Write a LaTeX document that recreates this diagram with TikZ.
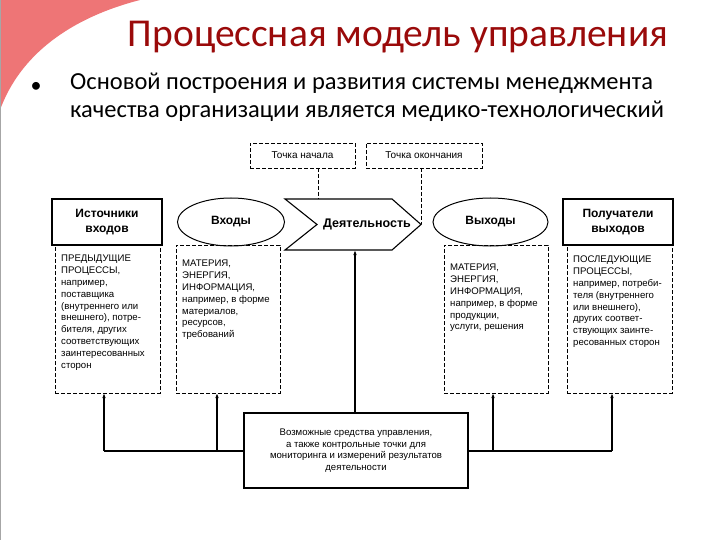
\documentclass[tikz,border=0pt]{standalone}
\usepackage{fontspec}
\setmainfont{Liberation Sans}
\newfontfamily\slidefont{Carlito}
\usetikzlibrary{shapes.geometric,arrows.meta}
\definecolor{pinkc}{HTML}{EE7576}
\definecolor{titlec}{HTML}{9A0A0A}
\begin{document}
\begin{tikzpicture}[x=1pt,y=-1pt,
  hdr/.style={draw,line width=1.4pt,minimum width=110pt,minimum height=46pt,font=\bfseries\fontsize{12}{14.5}\selectfont,align=center,inner sep=1pt},
  oval/.style={draw,line width=1pt,ellipse,minimum width=107pt,minimum height=48pt,font=\bfseries\fontsize{12}{14}\selectfont},
  dbox/.style={draw,dashed,line width=0.7pt,dash pattern=on 4pt off 2pt},
  small/.style={font=\fontsize{9.6}{11.8}\selectfont,align=left,anchor=north west,inner sep=0pt},
  topbox/.style={dbox,minimum width=105pt,minimum height=25pt,font=\fontsize{10}{12}\selectfont},
  ln/.style={line width=1.1pt},
  arr/.style={ln,-{Latex[length=5pt,width=3.5pt]}}]
\useasboundingbox (0,0) rectangle (720,540);
\fill[white] (0,0) rectangle (720,540);
\fill[pinkc] (0,0) -- (140,0) .. controls (70,18) and (20,55) .. (0,110) -- cycle;
\draw[gray!70,line width=0.6pt] (0.3,0) -- (0.3,540);
\node[font=\slidefont\fontsize{39.5}{44}\selectfont,text=titlec] (title) at (398,37) {Процессная модель управления};
\node[font=\slidefont\fontsize{22}{24}\selectfont] (bul) at (36,87) {•};
\node[font=\slidefont\fontsize{24.5}{28}\selectfont,align=left,anchor=north west,inner sep=0pt] (txt) at (70,73) {Основой построения и развития системы менеджмента\\качества организации является медико-технологический};
% top dashed boxes
\node[topbox] (start) at (302.5,155.5) {Точка начала};
\node[topbox,minimum width=116pt] (end) at (424,155.5) {Точка окончания};
% headers
\node[hdr] (src) at (107,222) {Источники\\входов};
\node[hdr] (rcv) at (618,222) {Получатели\\выходов};
\node[oval] (in) at (231,222) {Входы};
\node[oval,minimum width=115pt] (out) at (490.5,222) {Выходы};
\draw[line width=1.1pt] (285,199) -- (392,199) -- (421,224.5) -- (392,250) -- (285,250) -- (317,224.5) -- cycle;
\node[font=\bfseries\fontsize{12.5}{14}\selectfont] (act) at (367,224.5) {Деятельность};
\coordinate (actbot) at (355,250);
% dashed detail boxes
\node[dbox,minimum width=105pt,minimum height=148pt] (d1) at (107.5,319) {};
\node[dbox,minimum width=104pt,minimum height=148pt] (d2) at (228,319) {};
\node[dbox,minimum width=104pt,minimum height=148pt] (d3) at (496,319) {};
\node[dbox,minimum width=105pt,minimum height=148pt] (d4) at (619.5,319) {};
\node[small] (t1) at (61,255) {ПРЕДЫДУЩИЕ\\ПРОЦЕССЫ,\\например,\\поставщика\\(внутреннего или\\внешнего), потре-\\бителя, других\\соответствующих\\заинтересованных\\сторон};
\node[small] (t2) at (182,260) {МАТЕРИЯ,\\ЭНЕРГИЯ,\\ИНФОРМАЦИЯ,\\например, в форме\\материалов,\\ресурсов,\\требований};
\node[small] (t3) at (450,264) {МАТЕРИЯ,\\ЭНЕРГИЯ,\\ИНФОРМАЦИЯ,\\например, в форме\\продукции,\\услуги, решения};
\node[small] (t4) at (573,256) {ПОСЛЕДУЮЩИЕ\\ПРОЦЕССЫ,\\например, потреби-\\теля (внутреннего\\или внешнего),\\других соответ-\\ствующих заинте-\\ресованных сторон};
% dashed links
\draw[dbox] (318,168) -- (318,199);
\draw[dbox] (421,168) -- (421,224.5);
% bottom box
\node[draw,line width=1.1pt,minimum width=224pt,minimum height=75pt,align=center,font=\fontsize{9.6}{11.5}\selectfont] (ctl) at (356,450.5) {Возможные средства управления,\\а также контрольные точки для\\мониторинга и измерений результатов\\деятельности};
\draw[arr] (ctl.north -| actbot) -- (actbot);
\draw[ln] (ctl.west |- 0,451) -- (104,451);
\draw[ln] (ctl.east |- 0,451) -- (612,451);
\draw[arr] (104,451) -- (104,393);
\draw[arr] (217,451) -- (217,393);
\draw[arr] (493,451) -- (493,393);
\draw[arr] (612,451) -- (612,393);
\end{tikzpicture}
\end{document}
